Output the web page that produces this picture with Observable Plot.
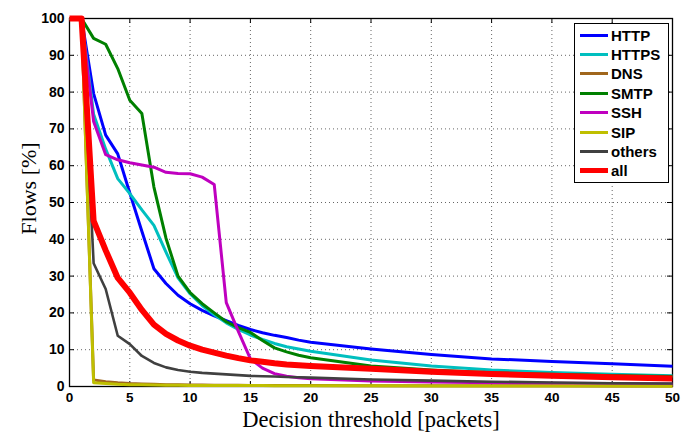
<!DOCTYPE html>
<html><head><meta charset="utf-8">
<script src="https://cdn.jsdelivr.net/npm/d3@7"></script>
<script src="https://cdn.jsdelivr.net/npm/@observablehq/plot@0.6"></script>
<style>
body{margin:0;background:#fff;}
#wrap{position:relative;width:682px;height:432px;}
#legend{position:absolute;left:574px;top:23px;width:95px;height:160px;border:1px solid #000;background:#fff;box-sizing:border-box;font-family:"Liberation Sans",Arial,sans-serif;font-weight:bold;font-size:15px;color:#000;}
.item{position:absolute;left:5px;height:19px;display:flex;align-items:center;white-space:nowrap;}
.sw{width:28px;margin-right:3px;}
</style></head>
<body><div id="wrap"><div id="chart"></div><div id="legend"></div></div>
<script>
const thresholds = [0,1,2,3,4,5,6,7,8,9,10,11,12,13,14,15,16,17,18,19,20,25,30,35,40,45,50];
const seriesNames = ["HTTP","HTTPS","DNS","SMTP","SSH","SIP","others","all"];
const seriesColors = ["#0000ff","#00bfbf","#a0661c","#008000","#bf00bf","#bfbf00","#404040","#ff0000"];
const httpFlows   = [100,100,79.6,68.3,63.2,52.6,42.2,32,28,24.8,22.5,20.7,19.2,17.9,16.6,15.5,14.6,13.9,13.3,12.6,12.0,10.2,8.7,7.5,6.8,6.2,5.5];
const httpsFlows  = [100,100,74,64.5,56.5,52.4,48,43.8,36.5,29.5,25.2,22,19.5,17.3,15.5,14,12.8,11.7,10.8,10.2,9.6,7.2,5.6,4.5,3.8,3.3,2.9];
const dnsFlows    = [100,100,1.8,1.3,1.0,0.8,0.7,0.6,0.5,0.45,0.4,0.38,0.36,0.34,0.32,0.3,0.3,0.28,0.27,0.26,0.25,0.22,0.2,0.18,0.17,0.16,0.15];
const smtpFlows   = [100,100,94.6,93,86.4,77.8,74.2,54.2,40.3,30,25.5,22.5,20,17.6,16,14.7,12.5,10.5,9.4,8.5,7.8,5.6,4.5,3.75,3.3,3.0,2.7];
const sshFlows    = [100,100,72,63,61.6,60.8,60.2,59.6,58.2,57.9,57.8,56.9,54.9,22.8,15,7.5,5,3.5,2.8,2.4,2.1,1.5,1.2,1.0,0.9,0.8,0.7];
const sipFlows    = [100,100,1.0,0.8,0.6,0.5,0.45,0.4,0.35,0.33,0.3,0.29,0.28,0.27,0.26,0.25,0.24,0.23,0.22,0.21,0.2,0.17,0.15,0.13,0.12,0.11,0.1];
const othersFlows = [100,100,33.5,26.5,13.8,11.5,8.3,6.4,5.2,4.5,4.0,3.7,3.5,3.3,3.1,2.9,2.8,2.7,2.6,2.5,2.4,1.9,1.6,1.3,1.1,0.9,0.8];
const allFlows    = [100,100,45,37,29.5,25.5,20.8,16.8,14.3,12.5,11.1,10,9.2,8.4,7.7,7.1,6.7,6.3,6.0,5.8,5.6,4.8,4.0,3.4,2.9,2.5,2.2];
const seriesValues = [httpFlows,httpsFlows,dnsFlows,smtpFlows,sshFlows,sipFlows,othersFlows,allFlows];
const seriesWidths = [3,3,3,3,3,3,2.6,6];
const xTicks = [0,5,10,15,20,25,30,35,40,45,50];
const yTicks = [0,10,20,30,40,50,60,70,80,90,100];

const W = 682, H = 432, mL = 69, mR = 10, mT = 18, mB = 46;
const pw = W - mL - mR, ph = H - mT - mB;

const lineMarks = seriesNames.map((name, i) =>
  Plot.line(thresholds.map((t, j) => ({x: t, y: seriesValues[i][j]})), {
    x: "x", y: "y", stroke: seriesColors[i], strokeWidth: seriesWidths[i], strokeLinejoin: "round", strokeLinecap: "butt"
  })
);

const chart = Plot.plot({
  width: W, height: H,
  marginLeft: mL, marginRight: mR, marginTop: mT, marginBottom: mB,
  style: {fontFamily: "Liberation Sans, Arial, sans-serif", background: "white", color: "black"},
  x: {domain: [0, 50]},
  y: {domain: [0, 100]},
  marks: [
    Plot.gridX(xTicks, {stroke: "#666", strokeOpacity: 1, strokeDasharray: "1,3", strokeWidth: 1}),
    Plot.gridY(yTicks, {stroke: "#666", strokeOpacity: 1, strokeDasharray: "1,3", strokeWidth: 1}),
    Plot.frame({stroke: "black", strokeWidth: 1.3}),
    Plot.tickX(xTicks, {x: d => d, insetTop: ph - 5, stroke: "black"}),
    Plot.tickX(xTicks, {x: d => d, insetBottom: ph - 5, stroke: "black"}),
    Plot.tickY(yTicks, {y: d => d, insetRight: pw - 5, stroke: "black"}),
    Plot.tickY(yTicks, {y: d => d, insetLeft: pw - 5, stroke: "black"}),
    Plot.axisX(xTicks, {tickSize: 0, tickPadding: 6, label: null, fontSize: 13.5, fontWeight: "bold"}),
    Plot.axisY(yTicks, {tickSize: 0, tickPadding: 5, label: null, fontSize: 14, fontWeight: "bold"}),
    ...lineMarks,
    Plot.text(["Decision threshold [packets]"], {text: d => d, frameAnchor: "bottom", dy: 33, textAnchor: "middle", lineAnchor: "middle", fontFamily: "Liberation Serif, serif", fontSize: 22.5, fontWeight: "normal", fill: "black"}),
    Plot.text(["Flows [%]"], {text: d => d, frameAnchor: "left", dx: -41, dy: -14, rotate: -90, textAnchor: "middle", lineAnchor: "middle", fontFamily: "Liberation Serif, serif", fontSize: 22, fontWeight: "normal", fill: "black"})
  ]
});
document.getElementById("chart").appendChild(chart);

const legend = document.getElementById("legend");
seriesNames.forEach((name, i) => {
  const item = document.createElement("div");
  item.className = "item";
  item.style.top = (1.5 + i * 19.4) + "px";
  const sw = document.createElement("div");
  sw.className = "sw";
  sw.style.height = (i === 7 ? 5 : 3) + "px";
  sw.style.background = seriesColors[i];
  const label = document.createElement("span");
  label.textContent = name;
  item.appendChild(sw);
  item.appendChild(label);
  legend.appendChild(item);
});
</script>
</body></html>
